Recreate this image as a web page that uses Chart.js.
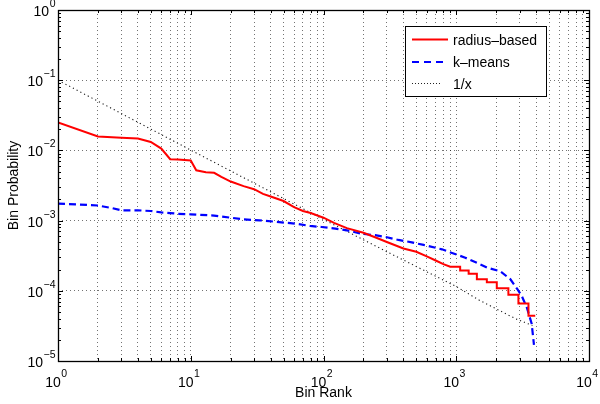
<!DOCTYPE html>
<html><head><meta charset="utf-8">
<script src="https://cdn.jsdelivr.net/npm/chart.js@4"></script>
<style>html,body{margin:0;padding:0;background:#fff}#wrap{width:600px;height:404px}</style>
</head><body><div id="wrap"><canvas id="c" width="600" height="404"></canvas></div>
<script>
// ---- data ----
const radiusRank = [1,2,3,4,5,6,7,8,10,11,13,15,17,20,25,30,35,40,50,60,70,80,100,120,150,200,250,300,400,500,600,700,800,900,1070,1070,1240,1240,1430,1430,1700,1700,2020,2020,2470,2470,2940,2940,3500,3500,3935];
const radiusProb = [0.025,0.0158,0.0152,0.0148,0.0132,0.0106,0.0075,0.0074,0.0072,0.0052,0.0049,0.0048,0.0042,0.0036,0.0031,0.0028,0.0024,0.0022,0.0019,0.00156,0.00137,0.00128,0.0011,0.00093,0.00078,0.00067,0.00057,0.000495,0.0004,0.00036,0.00031,0.00027,0.00024,0.00022,0.00022,0.000195,0.000195,0.000175,0.000175,0.000146,0.000146,0.000132,0.000132,0.000109,0.000109,0.000088,0.000088,0.000066,0.000066,0.000044,0.000044];
const kmeansRank = [1,2,2.5,3,4,5,6,7,8,10,15,20,25,33,42,63,79,97,123,154,194,245,300,367,463,568,780,1170,1430,1700,2150,2560,2870,3100,3400,3700,3850];
const kmeansProb = [0.00175,0.00164,0.00152,0.0014,0.0014,0.00137,0.00131,0.00128,0.00125,0.00123,0.00118,0.0011,0.00104,0.00101,0.00097,0.0009,0.00084,0.00081,0.00077,0.00072,0.00065,0.00062,0.00058,0.00053,0.00049,0.00045,0.00039,0.000296,0.00025,0.000215,0.000189,0.000146,0.000107,0.000086,0.000058,0.000034,0.000017];
const zipfRank = [1,10,100,300,1000,1500,2800,3750];
const zipfProb = [0.1,0.0101,0.00104,0.00036,0.000115,0.000073,0.000040,0.000032];
const seriesNames = ['radius\u2013based','k\u2013means','1/x'];
const xTickExponents = [0,1,2,3,4];
const yTickExponents = [0,-1,-2,-3,-4,-5];
const xTitle = 'Bin Rank';
const yTitle = 'Bin Probability';

const FONT = "'Liberation Sans', Arial, Helvetica, sans-serif";
function logTicks(e0, e1){
  const t=[];
  for(let e=e0;e<e1;e++){ for(let m=1;m<10;m++) t.push(m*Math.pow(10,e)); }
  t.push(Math.pow(10,e1));
  return t;
}
function isDecade(v){ const l=Math.log10(v); return Math.abs(l-Math.round(l))<1e-6; }
const pts=(xs,ys)=>xs.map((x,i)=>({x:x,y:ys[i]}));

const decor = {
  id:'decor',
  afterDatasetsDraw(chart){
    const ctx=chart.ctx, a=chart.chartArea, xs=chart.scales.x, ys=chart.scales.y;
    ctx.save();
    ctx.strokeStyle='#000'; ctx.lineWidth=1; ctx.setLineDash([]);
    ctx.beginPath();
    xs.ticks.forEach(t=>{
      const p=Math.round(xs.getPixelForValue(t.value))+0.5;
      const L=isDecade(t.value)?5:3;
      ctx.moveTo(p,a.bottom); ctx.lineTo(p,a.bottom-L);
      ctx.moveTo(p,a.top); ctx.lineTo(p,a.top+L);
    });
    ys.ticks.forEach(t=>{
      const p=Math.round(ys.getPixelForValue(t.value))+0.5;
      const L=isDecade(t.value)?5:3;
      ctx.moveTo(a.left,p); ctx.lineTo(a.left+L,p);
      ctx.moveTo(a.right,p); ctx.lineTo(a.right-L,p);
    });
    ctx.stroke();
    ctx.lineWidth=1.3;
    ctx.strokeRect(Math.round(a.left)+0.5,Math.round(a.top)+0.5,Math.round(a.right-a.left),Math.round(a.bottom-a.top));
    ctx.restore();
  },
  afterDraw(chart){
    const ctx=chart.ctx, a=chart.chartArea, xs=chart.scales.x, ys=chart.scales.y;
    ctx.save();
    ctx.fillStyle='#000';
    ctx.textBaseline='alphabetic'; ctx.textAlign='left';
    const big='14px '+FONT, small='10.5px '+FONT;
    function lab(e){
      ctx.font=big; const w1=ctx.measureText('10').width;
      ctx.font=small; const s=String(e).replace('-','\u2212'); const w2=ctx.measureText(s).width;
      return {w1,w2,s};
    }
    xTickExponents.forEach(e=>{
      const p=xs.getPixelForValue(Math.pow(10,e));
      const L=lab(e); const x0=p-(L.w1+L.w2)/2-2;
      ctx.font=big; ctx.fillText('10',x0,a.bottom+26);
      ctx.font=small; ctx.fillText(L.s,x0+L.w1+0.5,a.bottom+16);
    });
    yTickExponents.forEach(e=>{
      const p=ys.getPixelForValue(Math.pow(10,e));
      const L=lab(e); const x0=a.left-3-(L.w1+L.w2);
      ctx.font=big; ctx.fillText('10',x0,p+6);
      ctx.font=small; ctx.fillText(L.s,x0+L.w1+0.5,p-3);
    });
    const bx=405.5, by=26.5, bw=141, bh=70;
    ctx.fillStyle='#fff'; ctx.fillRect(bx,by,bw,bh);
    ctx.strokeStyle='#000'; ctx.lineWidth=1; ctx.strokeRect(bx,by,bw,bh);
    const rows=[39.5,62,83.5];
    const styles=[{c:'#ff0000',w:2,d:[],x1:448},{c:'#0000ff',w:2,d:[7,5],x1:446},{c:'#222',w:1,d:[1,2],x1:442}];
    rows.forEach((y,i)=>{
      const s=styles[i];
      ctx.beginPath(); ctx.strokeStyle=s.c; ctx.lineWidth=s.w; ctx.setLineDash(s.d);
      ctx.moveTo(412,y); ctx.lineTo(s.x1,y); ctx.stroke();
      ctx.setLineDash([]);
      ctx.fillStyle='#000'; ctx.font=big; ctx.fillText(seriesNames[i],453,y+5);
    });
    ctx.restore();
  }
};

new Chart(document.getElementById('c'),{
  type:'line',
  data:{datasets:[
    {label:seriesNames[0],data:pts(radiusRank,radiusProb),borderColor:'#ff0000',borderWidth:2,pointRadius:0,tension:0,fill:false},
    {label:seriesNames[1],data:pts(kmeansRank,kmeansProb),borderColor:'#0000ff',borderWidth:2.2,borderDash:[7,4],pointRadius:0,tension:0,fill:false},
    {label:seriesNames[2],data:pts(zipfRank,zipfProb),borderColor:'#1a1a1a',borderWidth:1.1,borderDash:[1.2,3],pointRadius:0,tension:0,fill:false}
  ]},
  options:{
    responsive:false, animation:false, devicePixelRatio:1,
    layout:{padding:{left:0,right:11,top:10,bottom:0}},
    plugins:{legend:{display:false},tooltip:{enabled:false}},
    scales:{
      x:{type:'logarithmic',min:1,max:10000,
        afterBuildTicks:s=>{s.ticks=logTicks(0,4).map(v=>({value:v}));},
        afterFit:s=>{s.height=43;},
        ticks:{display:false},
        grid:{color:'rgba(0,0,0,0.55)',lineWidth:1,drawTicks:false},
        border:{display:false,dash:[1,3]},
        title:{display:true,text:xTitle,color:'#000',font:{family:FONT,size:14},padding:{top:0,bottom:2}}
      },
      y:{type:'logarithmic',min:1e-5,max:1,
        afterBuildTicks:s=>{s.ticks=logTicks(-5,0).map(v=>({value:v}));},
        afterFit:s=>{s.width=58;},
        ticks:{display:false},
        grid:{color:c=>(c.tick&&isDecade(c.tick.value))?'rgba(0,0,0,0.55)':'rgba(0,0,0,0)',lineWidth:1,drawTicks:false},
        border:{display:false,dash:[1,3]},
        title:{display:true,text:yTitle,color:'#000',font:{family:FONT,size:14},padding:{top:6,bottom:0}}
      }
    }
  },
  plugins:[decor]
});
</script></body></html>
